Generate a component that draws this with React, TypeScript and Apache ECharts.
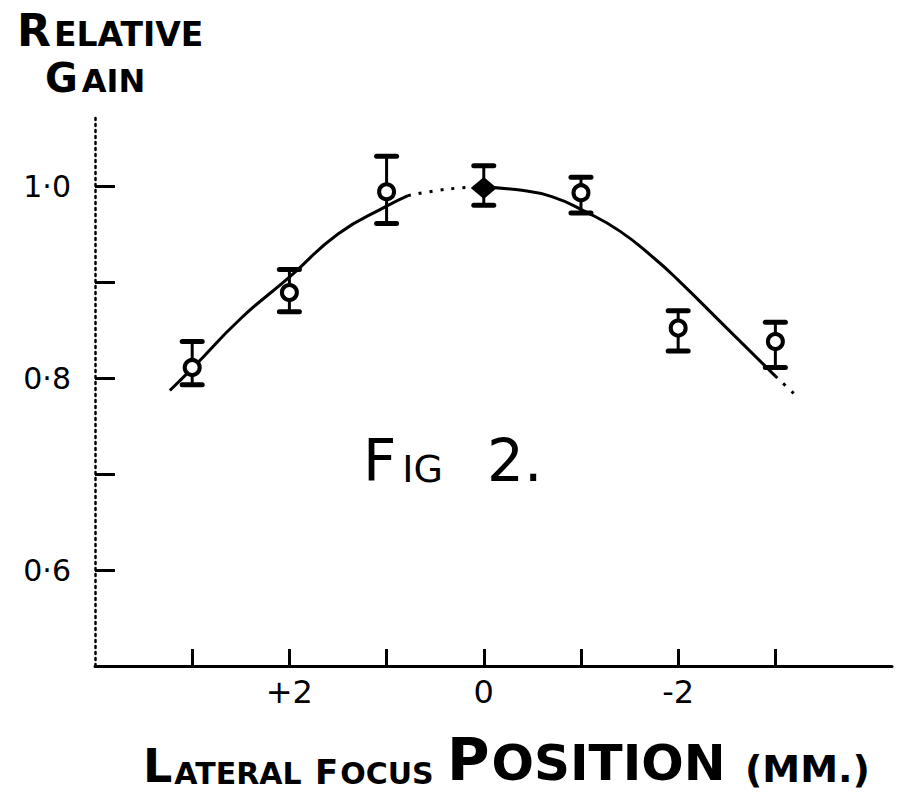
import React, { useEffect, useRef } from "react";
import * as echarts from "echarts";

// Measured points (lateral focus position in mm, relative gain)
const focusMM = [3, 2, 1, 0, -1, -2, -3];
const gain = [0.811, 0.889, 0.994, 0.998, 0.993, 0.852, 0.838];
const gainLow = [0.793, 0.869, 0.961, 0.98, 0.972, 0.828, 0.811];
const gainHigh = [0.838, 0.913, 1.031, 1.021, 1.009, 0.87, 0.858];
const filledPoint = [false, false, false, true, false, false, false];

// Hand-drawn fitted curve
const curveLeftX = [3.23, 3.0, 2.5, 2.0, 1.5, 1.0, 0.78];
const curveLeftY = [0.787, 0.81, 0.862, 0.905, 0.95, 0.979, 0.99];
const curveTopDotX = [0.78, 0.5, 0.25, 0.05];
const curveTopDotY = [0.99, 0.995, 0.998, 0.999];
const curveRightX = [0.05, -0.35, -0.7, -1.05, -1.4, -1.75, -2.0, -2.5, -3.0];
const curveRightY = [0.999, 0.996, 0.989, 0.973, 0.953, 0.925, 0.902, 0.852, 0.802];
const curveEndDotX = [-3.0, -3.23];
const curveEndDotY = [0.802, 0.78];

// Axis ticks and labels
const xTickValues = [3, 2, 1, 0, -1, -2, -3];
const xLabelValues = [2, 0, -2];
const yTickValues = [0.6, 0.7, 0.8, 0.9, 1.0];
const yLabelValues = [0.6, 0.8, 1.0];

const FONT = "DejaVu Sans";

const pairs = (xs: number[], ys: number[]) => xs.map((x, i) => [x, ys[i]]);

export default function App() {
  const ref = useRef<HTMLDivElement>(null);
  useEffect(() => {
    if (!ref.current) return;
    const chart = echarts.init(ref.current, null, { renderer: "svg" });
    const curveLine = (data: number[][], dotted: boolean) => ({
      type: "line",
      data,
      smooth: true,
      showSymbol: false,
      symbol: "none",
      z: 3,
      lineStyle: { color: "#000", width: 3, type: dotted ? [3, 8] : "solid" },
      silent: true,
    });
    chart.setOption({
      animation: false,
      backgroundColor: "#fff",
      grid: { left: 95, right: 11, top: 114, bottom: 127, containLabel: false },
      xAxis: {
        type: "value",
        min: -4.2,
        max: 4,
        inverse: true,
        axisLine: { show: true, onZero: false, lineStyle: { color: "#000", width: 3 } },
        axisTick: {
          show: true,
          inside: true,
          length: 17,
          customValues: xTickValues,
          lineStyle: { color: "#000", width: 3 },
        },
        axisLabel: {
          show: true,
          customValues: xLabelValues,
          margin: 10,
          color: "#000",
          fontSize: 32,
          fontFamily: FONT,
          formatter: (v: number) => (v > 0 ? "+" + v : String(v)),
        },
        splitLine: { show: false },
      },
      yAxis: {
        type: "value",
        min: 0.5,
        max: 1.075,
        axisLine: { show: true, onZero: false, lineStyle: { color: "#000", width: 2.5, type: [2, 4] } },
        axisTick: {
          show: true,
          inside: true,
          length: 20,
          customValues: yTickValues,
          lineStyle: { color: "#000", width: 3 },
        },
        axisLabel: {
          show: true,
          customValues: yLabelValues,
          margin: 24,
          color: "#000",
          fontSize: 30,
          fontFamily: FONT,
          formatter: (v: number) => v.toFixed(1).replace(".", "·"),
        },
        splitLine: { show: false },
      },
      series: [
        {
          type: "custom",
          z: 2,
          data: focusMM.map((x, i) => [x, gainLow[i], gainHigh[i]]),
          encode: { x: 0, y: [1, 2] },
          renderItem: (params: any, api: any) => {
            const x = api.value(0);
            const lo = api.coord([x, api.value(1)]);
            const hi = api.coord([x, api.value(2)]);
            const w = 10;
            return {
              type: "group",
              children: [
                { type: "line", shape: { x1: lo[0], y1: lo[1], x2: hi[0], y2: hi[1] }, style: { stroke: "#000", lineWidth: 3 } },
                { type: "line", shape: { x1: hi[0] - w, y1: hi[1], x2: hi[0] + w, y2: hi[1] }, style: { stroke: "#000", lineWidth: 5, lineCap: "round" } },
                { type: "line", shape: { x1: lo[0] - w, y1: lo[1], x2: lo[0] + w, y2: lo[1] }, style: { stroke: "#000", lineWidth: 5, lineCap: "round" } },
              ],
            };
          },
        },
        curveLine(pairs(curveLeftX, curveLeftY), false),
        curveLine(pairs(curveTopDotX, curveTopDotY), true),
        curveLine(pairs(curveRightX, curveRightY), false),
        curveLine(pairs(curveEndDotX, curveEndDotY), true),
        {
          type: "scatter",
          z: 5,
          data: focusMM.map((x, i) =>
            filledPoint[i]
              ? { value: [x, gain[i]], symbol: "diamond", symbolSize: [26, 22], itemStyle: { color: "#000", borderWidth: 0, opacity: 1 } }
              : { value: [x, gain[i]], symbol: "circle", symbolSize: 15, itemStyle: { color: "#fff", borderColor: "#000", borderWidth: 4, opacity: 1 } }
          ),
          itemStyle: { opacity: 1 },
        },
      ],
      graphic: [
        {
          type: "text",
          x: 17,
          y: 52,
          style: {
            x: 0,
            y: 0,
            text: "{b|R}{s|ELATIVE}",
            verticalAlign: "bottom",
            fill: "#000",
            rich: {
              b: { fontSize: 44, fontFamily: FONT, fontWeight: "bold", fill: "#000", verticalAlign: "bottom" },
              s: { fontSize: 33, fontFamily: FONT, fontWeight: "bold", fill: "#000", verticalAlign: "bottom", padding: [0, 0, 1, 3] },
            },
          },
        },
        {
          type: "text",
          x: 45,
          y: 98,
          style: {
            x: 0,
            y: 0,
            text: "{b|G}{s|AIN}",
            verticalAlign: "bottom",
            fill: "#000",
            rich: {
              b: { fontSize: 40, fontFamily: FONT, fontWeight: "bold", fill: "#000", verticalAlign: "bottom" },
              s: { fontSize: 32, fontFamily: FONT, fontWeight: "bold", fill: "#000", verticalAlign: "bottom", padding: [0, 0, 1, 4] },
            },
          },
        },
        {
          type: "text",
          x: 363,
          y: 490,
          style: {
            x: 0,
            y: 0,
            text: "{b|F}{s|IG}{b|2.}",
            verticalAlign: "bottom",
            fill: "#000",
            rich: {
              b: { fontSize: 58, fontFamily: FONT, fill: "#000", verticalAlign: "bottom" },
              s: { fontSize: 38, fontFamily: FONT, fill: "#000", verticalAlign: "bottom", padding: [0, 44, 2, 6] },
            },
          },
        },
        {
          type: "text",
          x: 143,
          y: 789,
          style: {
            x: 0,
            y: 0,
            text: "{l|L}{m|ATERAL} {f|F}{n|OCUS} {p|P}{o|OSITION} {q|(MM.)}",
            verticalAlign: "bottom",
            fill: "#000",
            rich: {
              l: { fontSize: 46, fontFamily: FONT, fontWeight: "bold", fill: "#000", verticalAlign: "bottom" },
              m: { fontSize: 30, fontFamily: FONT, fontWeight: "bold", fill: "#000", verticalAlign: "bottom", padding: [0, 10, 1, 2] },
              f: { fontSize: 34, fontFamily: FONT, fontWeight: "bold", fill: "#000", verticalAlign: "bottom" },
              n: { fontSize: 30, fontFamily: FONT, fontWeight: "bold", fill: "#000", verticalAlign: "bottom", padding: [0, 10, 1, 2] },
              p: { fontSize: 58, fontFamily: FONT, fontWeight: "bold", fill: "#000", verticalAlign: "bottom" },
              o: { fontSize: 50, fontFamily: FONT, fontWeight: "bold", fill: "#000", verticalAlign: "bottom", padding: [0, 16, 1, 2] },
              q: { fontSize: 38, fontFamily: FONT, fontWeight: "bold", fill: "#000", verticalAlign: "bottom", padding: [0, 0, 1, 0] },
            },
          },
        },
      ],
    });
    return () => chart.dispose();
  }, []);
  return (
    <div
      ref={ref}
      style={{ position: "fixed", left: 0, top: 0, width: 903, height: 793, background: "#fff" }}
    />
  );
}
